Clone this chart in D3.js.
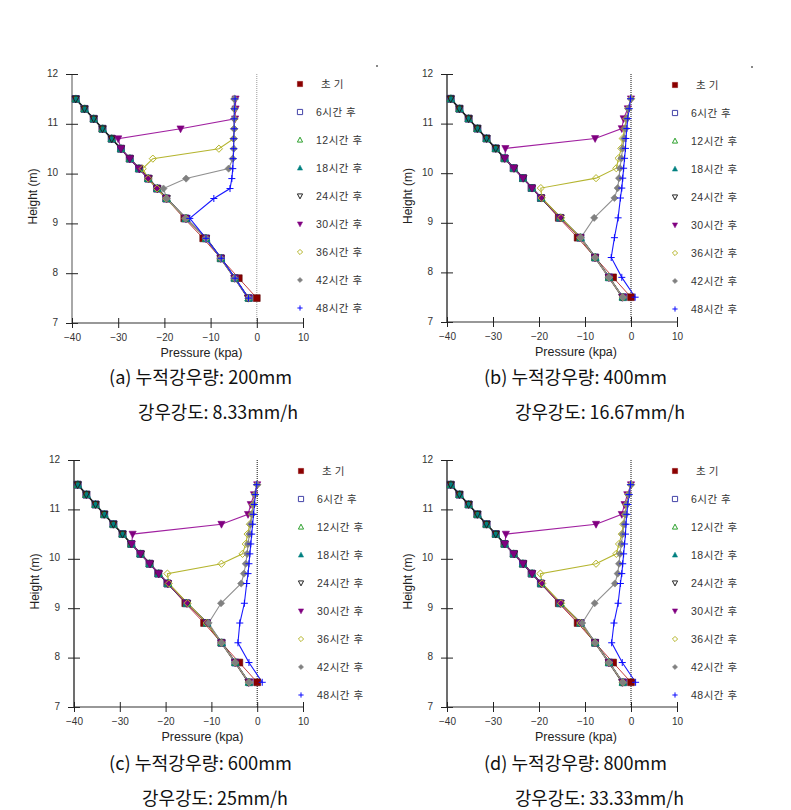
<!DOCTYPE html>
<html><head><meta charset="utf-8">
<script src="https://cdn.jsdelivr.net/npm/d3@7/dist/d3.min.js"></script>
<style>body{margin:0;background:#fff}svg{display:block}</style>
</head><body>
<svg id="chart" width="791" height="810"></svg>
<script>
// ---------------- data ----------------
const heights = [11.5, 11.3, 11.1, 10.9, 10.7, 10.5, 10.3, 10.1, 9.9, 9.7, 9.5, 9.1, 8.7, 8.3, 7.9, 7.5];
const seriesNames = ["초기", "6시간 후", "12시간 후", "18시간 후", "24시간 후", "30시간 후", "36시간 후", "42시간 후", "48시간 후"];
const xTicks = [-40, -30, -20, -10, 0, 10];
const yTicks = [7, 8, 9, 10, 11, 12];
const captionLine1 = ["(a) 누적강우량: 200mm", "(b) 누적강우량: 400mm", "(c) 누적강우량: 600mm", "(d) 누적강우량: 800mm"];
const captionLine2 = ["강우강도: 8.33mm/h", "강우강도: 16.67mm/h", "강우강도: 25mm/h", "강우강도: 33.33mm/h"];

const initial = [-39.2, -37.3, -35.3, -33.4, -31.4, -29.4, -27.5, -25.5, -23.5, -21.6, -19.6, -15.7, -11.6, -7.8, -3.9, 0.0];
const after6  = [-39.2, -37.3, -35.3, -33.4, -31.4, -29.4, -27.5, -25.5, -23.5, -21.6, -19.6, -15.4, -11.0, -7.8, -4.8, -1.7];
const after12 = [-39.2, -37.3, -35.3, -33.4, -31.4, -29.4, -27.5, -25.5, -23.5, -21.5, -19.5, -15.3, -11.0, -7.8, -4.8, -1.8];
const after18 = [-39.1, -37.2, -35.3, -33.3, -31.4, -29.4, -27.4, -25.5, -23.5, -21.5, -19.5, -15.4, -10.9, -7.7, -4.7, -1.8];
const after24 = [-39.2, -37.3, -35.3, -33.4, -31.4, -29.4, -27.5, -25.4, -23.4, -21.5, -19.5, -15.3, -11.0, -7.8, -4.8, -1.9];

// panel (a) 200mm
const a30 = [-4.6, -4.6, -4.7, -16.5, -30.0, -29.4, -27.5, -25.5, -23.5, -21.6, -19.6, -15.4, -11.0, -7.8, -4.8, -1.8];
const a36 = [-4.8, -4.8, -4.8, -4.9, -5.0, -8.2, -22.5, -24.7, -23.5, -21.6, -19.6, -15.4, -11.0, -7.8, -4.8, -1.8];
const a42 = [-4.9, -4.9, -4.9, -4.9, -5.0, -5.0, -5.2, -6.1, -15.3, -20.2, -19.5, -15.4, -11.0, -7.8, -4.8, -1.8];
const a48 = [-4.7, -4.8, -4.9, -4.9, -5.0, -5.0, -5.1, -5.2, -5.4, -5.8, -9.3, -14.5, -11.0, -7.7, -4.7, -1.8];
// panel (b) 400mm
const b30 = [0.0, -0.7, -1.6, -2.0, -7.8, -27.3, -27.4, -25.5, -23.5, -21.5, -19.5, -15.4, -11.0, -7.8, -4.8, -1.8];
const b36 = [0.0, -0.6, -1.0, -1.4, -1.8, -2.1, -2.7, -3.2, -7.6, -19.6, -19.4, -15.2, -11.0, -7.8, -4.8, -1.8];
const b42 = [0.0, -0.6, -0.9, -1.2, -1.5, -1.8, -2.1, -2.4, -2.6, -2.9, -3.6, -8.0, -10.9, -7.8, -4.8, -1.8];
const b48 = [-0.1, -0.4, -0.7, -0.9, -1.1, -1.2, -1.4, -1.6, -1.8, -2.0, -2.3, -2.8, -3.6, -4.3, -2.0, 0.9];
// panel (c) 600mm
const c30 = [0.0, -0.7, -1.4, -2.0, -7.8, -27.2, -27.4, -25.5, -23.5, -21.5, -19.5, -15.4, -11.0, -7.8, -4.8, -1.8];
const c36 = [0.0, -0.5, -0.9, -1.2, -1.6, -2.1, -2.5, -3.2, -7.8, -19.6, -19.3, -15.2, -11.0, -7.8, -4.8, -1.8];
const c42 = [0.0, -0.5, -0.8, -1.1, -1.4, -1.7, -2.0, -2.2, -2.5, -2.9, -3.5, -7.9, -10.6, -7.8, -4.8, -1.8];
const c48 = [-0.1, -0.4, -0.6, -0.8, -1.0, -1.2, -1.4, -1.6, -1.8, -2.0, -2.3, -2.8, -3.8, -4.2, -1.8, 1.1];
// panel (d) 800mm
const d30 = [0.0, -0.8, -1.4, -2.0, -7.6, -27.2, -27.4, -25.5, -23.5, -21.5, -19.5, -15.4, -11.0, -7.8, -4.8, -1.8];
const d36 = [0.0, -0.6, -1.0, -1.3, -1.7, -2.0, -2.6, -3.2, -7.6, -19.7, -19.3, -15.2, -11.0, -7.8, -4.8, -1.8];
const d42 = [0.0, -0.5, -0.9, -1.2, -1.5, -1.8, -2.1, -2.4, -2.6, -2.9, -3.5, -7.9, -10.6, -7.8, -4.8, -1.8];
const d48 = [-0.1, -0.4, -0.7, -0.9, -1.1, -1.2, -1.4, -1.6, -1.8, -2.0, -2.3, -2.8, -3.7, -4.2, -1.9, 1.0];

const panelSeries = [
  [initial, after6, after12, after18, after24, a30, a36, a42, a48],
  [initial, after6, after12, after18, after24, b30, b36, b42, b48],
  [initial, after6, after12, after18, after24, c30, c36, c42, c48],
  [initial, after6, after12, after18, after24, d30, d36, d42, d48]
];

// ---------------- layout & style ----------------
const layout = [
  {x0: 72,  x1: 303, yT: 74,  yB: 323, legX: 300, legY: 84,  c1x: 109, c1y: 376, c1w: 183, c2x: 138, c2y: 411, c2w: 160, dot: true,  axis: "#999", zero: "#999"},
  {x0: 447, x1: 677, yT: 74,  yB: 322, legX: 675, legY: 85,  c1x: 484, c1y: 376, c1w: 183, c2x: 515, c2y: 411, c2w: 170, dot: true,  axis: "#555", zero: "#111"},
  {x0: 74,  x1: 303, yT: 460, yB: 707, legX: 301, legY: 471, c1x: 109, c1y: 762, c1w: 183, c2x: 142, c2y: 797, c2w: 146, dot: false, axis: "#555", zero: "#111"},
  {x0: 447, x1: 677, yT: 460, yB: 707, legX: 675, legY: 471, c1x: 484, c1y: 762, c1w: 183, c2x: 515, c2y: 797, c2w: 169, dot: false, axis: "#555", zero: "#111"}
];
const styles = [
  {color: "#8b0000", line: "#c04040", shape: "square",  fill: true,  lw: 1.0},
  {color: "#4444a8", line: "#4444a8", shape: "square",  fill: false, lw: 1.0},
  {color: "#2ca02c", line: "#2ca02c", shape: "tri",     fill: false, lw: 1.0},
  {color: "#008080", line: "#106060", shape: "tri",     fill: true,  lw: 1.2},
  {color: "#222222", line: "#222222", shape: "triDown", fill: false, lw: 1.5},
  {color: "#800080", line: "#a020a0", shape: "triDown", fill: true,  lw: 1.1},
  {color: "#b5b52a", line: "#b5b530", shape: "diamond", fill: false, lw: 1.1},
  {color: "#808080", line: "#909090", shape: "diamond", fill: true,  lw: 1.1},
  {color: "#0a0aff", line: "#1a1aff", shape: "plus",    fill: false, lw: 1.1}
];
function markerPath(shape, s) {
  switch (shape) {
    case "square":  return `M${-s},${-s}h${2*s}v${2*s}h${-2*s}Z`;
    case "tri":     return `M0,${-s*1.1}L${s},${s*0.8}L${-s},${s*0.8}Z`;
    case "triDown": return `M0,${s*1.1}L${s},${-s*0.8}L${-s},${-s*0.8}Z`;
    case "diamond": return `M0,${-s}L${s},0L0,${s}L${-s},0Z`;
    case "plus":    return `M${-s},0H${s}M0,${-s}V${s}`;
  }
}

const svg = d3.select("#chart");
const latin = "'Liberation Sans', Arial, 'Noto Sans CJK KR', sans-serif";
const capFont = "'Liberation Sans Narrow', 'Noto Sans CJK KR', sans-serif";

layout.forEach((L, pi) => {
  const g = svg.append("g");
  const x = d3.scaleLinear().domain([-40, 10]).range([L.x0, L.x1]);
  const y = d3.scaleLinear().domain([7, 12]).range([L.yB, L.yT]);

  // zero dotted line
  g.append("line").attr("x1", x(0)).attr("x2", x(0)).attr("y1", y(12)).attr("y2", y(7))
    .attr("stroke", L.zero).attr("stroke-width", 1).attr("stroke-dasharray", "1,1");

  // axes
  const ya = g.append("g").attr("transform", `translate(${x(-40)},0)`)
    .call(d3.axisLeft(y).tickValues(yTicks).tickSize(6).tickPadding(8).tickFormat(d3.format("d")));
  const xa = g.append("g").attr("transform", `translate(0,${y(7)})`)
    .call(d3.axisBottom(x).tickValues(xTicks).tickSize(5).tickPadding(6).tickFormat(d3.format("d")));
  ya.select(".domain").attr("stroke", L.axis).attr("stroke-width", 1.7).attr("d", `M0,${y(7)}V${y(12)}`);
  xa.select(".domain").attr("stroke", "#333").attr("stroke-width", 1.2).attr("d", `M${x(-40)},0H${x(10)}`);
  ya.selectAll(".tick line").attr("x1", -6).attr("x2", 6).attr("stroke", "#222");
  xa.selectAll(".tick line").attr("y1", -5).attr("y2", 5).attr("stroke", "#222");
  [ya, xa].forEach(a => a.selectAll(".tick text").attr("font-family", latin).attr("font-size", 10).attr("fill", "#333"));
  ya.selectAll(".tick text").attr("dy", "0.2em");

  // axis titles
  g.append("text").attr("x", (L.x0 + L.x1) / 2 + 14).attr("y", L.yB + 34)
    .attr("text-anchor", "middle").attr("font-family", latin).attr("font-size", 12.5).attr("fill", "#222")
    .text("Pressure (kpa)");
  g.append("text").attr("transform", `translate(${L.x0 - 35},${(L.yT + L.yB) / 2 - 2}) rotate(-90)`)
    .attr("text-anchor", "middle").attr("font-family", latin).attr("font-size", 12).attr("fill", "#222")
    .text("Height (m)");

  // series lines + markers
  const series = panelSeries[pi];
  const line = d3.line().x(d => x(d[0])).y(d => y(d[1]));
  series.forEach((vals, si) => {
    const st = styles[si];
    const pts = vals.map((v, k) => [v, heights[k]]);
    g.append("path").attr("d", line(pts)).attr("fill", "none")
      .attr("stroke", st.line).attr("stroke-width", st.lw);
  });
  series.forEach((vals, si) => {
    const st = styles[si];
    const pts = vals.map((v, k) => [v, heights[k]]);
    const s = st.shape === "square" ? 3.4 : (st.shape === "plus" ? 3.5 : 3.6);
    g.append("g").selectAll("path").data(pts).join("path")
      .attr("transform", d => `translate(${x(d[0])},${y(d[1])})`)
      .attr("d", markerPath(st.shape, s))
      .attr("fill", st.fill ? st.color : "none")
      .attr("stroke", st.fill && st.shape === "square" && si === 0 ? "#5a0000" : st.color)
      .attr("stroke-width", st.fill ? 0.6 : 1);
  });

  // legend
  const lg = g.append("g");
  seriesNames.forEach((name, si) => {
    const st = styles[si];
    const ly = L.legY + si * 28;
    lg.append("path").attr("transform", `translate(${L.legX},${ly})`)
      .attr("d", markerPath(st.shape, 2.6))
      .attr("fill", st.fill ? st.color : "none").attr("stroke", st.color).attr("stroke-width", st.fill ? 0.5 : 1);
    lg.append("text").attr("x", L.legX + (si === 0 ? 21 : 16)).attr("y", ly).attr("dy", "0.36em")
      .attr("font-family", latin).attr("font-size", 10.5).attr("fill", "#333")
      .attr("letter-spacing", si === 0 ? 3 : 0.5)
      .text(name);
  });
  if (L.dot) {
    g.append("rect").attr("x", L.legX + 76).attr("y", L.legY - 19).attr("width", 2).attr("height", 2).attr("fill", "#888");
  }

  // captions
  g.append("text").attr("x", L.c1x).attr("y", L.c1y).attr("dominant-baseline", "central")
    .attr("font-family", capFont).attr("font-size", 18).attr("fill", "#111")
    .attr("textLength", L.c1w).attr("lengthAdjust", "spacingAndGlyphs")
    .text(captionLine1[pi]);
  g.append("text").attr("x", L.c2x).attr("y", L.c2y).attr("dominant-baseline", "central")
    .attr("font-family", capFont).attr("font-size", 18).attr("fill", "#111")
    .attr("textLength", L.c2w).attr("lengthAdjust", "spacingAndGlyphs")
    .text(captionLine2[pi]);
});
</script>
</body></html>
